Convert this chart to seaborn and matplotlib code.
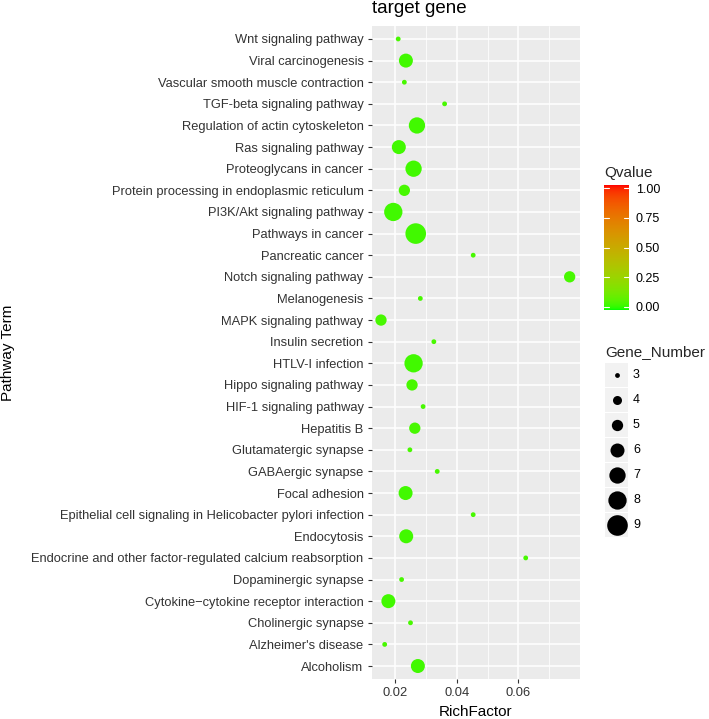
import numpy as np
import pandas as pd
import matplotlib
matplotlib.use("Agg")
import matplotlib.pyplot as plt
from matplotlib.colors import ListedColormap
from matplotlib.patches import Rectangle
import seaborn as sns

# ---------------- data (top to bottom) ----------------
pathways = [
    "Wnt signaling pathway",
    "Viral carcinogenesis",
    "Vascular smooth muscle contraction",
    "TGF-beta signaling pathway",
    "Regulation of actin cytoskeleton",
    "Ras signaling pathway",
    "Proteoglycans in cancer",
    "Protein processing in endoplasmic reticulum",
    "PI3K/Akt signaling pathway",
    "Pathways in cancer",
    "Pancreatic cancer",
    "Notch signaling pathway",
    "Melanogenesis",
    "MAPK signaling pathway",
    "Insulin secretion",
    "HTLV-I infection",
    "Hippo signaling pathway",
    "HIF-1 signaling pathway",
    "Hepatitis B",
    "Glutamatergic synapse",
    "GABAergic synapse",
    "Focal adhesion",
    "Epithelial cell signaling in Helicobacter pylori infection",
    "Endocytosis",
    "Endocrine and other factor-regulated calcium reabsorption",
    "Dopaminergic synapse",
    "Cytokine\u2212cytokine receptor interaction",
    "Cholinergic synapse",
    "Alzheimer's disease",
    "Alcoholism",
]
rich_factor = [
    0.0209, 0.0234, 0.0229, 0.0360, 0.0270, 0.0211, 0.0259, 0.0229, 0.0193, 0.0266,
    0.0453, 0.0767, 0.0281, 0.0153, 0.0325, 0.0259, 0.0254, 0.0290, 0.0263, 0.0247,
    0.0336, 0.0233, 0.0453, 0.0235, 0.0624, 0.0220, 0.0177, 0.0249, 0.0165, 0.0273,
]
gene_number = [
    3, 6, 3, 3, 7, 6, 7, 5, 8, 9,
    3, 5, 3, 5, 3, 8, 5, 3, 5, 3,
    3, 6, 3, 6, 3, 3, 6, 3, 3, 6,
]
qvalue = [
    0.05, 0.04, 0.05, 0.05, 0.04, 0.04, 0.04, 0.05, 0.04, 0.04,
    0.05, 0.05, 0.05, 0.05, 0.05, 0.04, 0.05, 0.05, 0.05, 0.05,
    0.05, 0.04, 0.05, 0.04, 0.05, 0.05, 0.04, 0.05, 0.05, 0.04,
]
legend_sizes = [3, 4, 5, 6, 7, 8, 9]
q_ticks = [0.0, 0.25, 0.5, 0.75, 1.0]
q_labels = ["0.00", "0.25", "0.50", "0.75", "1.00"]

df = pd.DataFrame({"Pathway": pathways, "RichFactor": rich_factor,
                   "Gene_Number": gene_number, "Qvalue": qvalue})

# ---------------- colour map: green -> red interpolated in Lab (ggplot style) ----------------
_M = np.array([[0.4124564, 0.3575761, 0.1804375],
               [0.2126729, 0.7151522, 0.0721750],
               [0.0193339, 0.1191920, 0.9503041]])
_W = np.array([0.95047, 1.0, 1.08883])

def _to_lab(rgb):
    c = np.asarray(rgb, float)
    lin = np.where(c <= 0.04045, c / 12.92, ((c + 0.055) / 1.055) ** 2.4)
    xyz = _M @ lin / _W
    f = np.where(xyz > 0.008856, np.cbrt(xyz), 7.787 * xyz + 16 / 116)
    return np.array([116 * f[1] - 16, 500 * (f[0] - f[1]), 200 * (f[1] - f[2])])

def _from_lab(lab):
    L, a, b = lab
    fy = (L + 16) / 116
    fx = fy + a / 500
    fz = fy - b / 200
    f = np.array([fx, fy, fz])
    xyz = np.where(f ** 3 > 0.008856, f ** 3, (f - 16 / 116) / 7.787) * _W
    lin = np.linalg.solve(_M, xyz)
    lin = np.clip(lin, 0, 1)
    c = np.where(lin <= 0.0031308, 12.92 * lin, 1.055 * lin ** (1 / 2.4) - 0.055)
    return np.clip(c, 0, 1)

_g, _r = _to_lab([0, 1, 0]), _to_lab([1, 0, 0])
cmap = ListedColormap([_from_lab(_g + t * (_r - _g)) for t in np.linspace(0, 1, 256)])

# size mapping (point area in pt^2)
size_px = {3: 4.8, 4: 9.0, 5: 11.3, 6: 14.0, 7: 16.3, 8: 18.3, 9: 20.6}
size_map = {k: (0.72 * v) ** 2 for k, v in size_px.items()}

# ---------------- figure ----------------
sns.set_style("white")
plt.rcParams["font.family"] = ["Liberation Sans", "DejaVu Sans"]

W, H = 709, 719
fig = plt.figure(figsize=(W / 100, H / 100), dpi=100)
L_, R_, T_, B_ = 372, 579.5, 26, 679
ax = fig.add_axes([L_ / W, 1 - B_ / H, (R_ - L_) / W, (B_ - T_) / H])
ax.set_facecolor("#EBEBEB")

sns.scatterplot(data=df, x="RichFactor", y="Pathway", hue="Qvalue", size="Gene_Number",
                palette=cmap, hue_norm=(0, 1), sizes=size_map, linewidth=0,
                legend=False, ax=ax, zorder=3)

ax.set_xlim(0.01237, 0.0799)
ax.set_ylim(len(pathways) - 1 + 0.6, -0.6)
ax.set_xticks([0.02, 0.04, 0.06])
ax.set_xticklabels(["0.02", "0.04", "0.06"])
ax.set_xticks([0.03, 0.05, 0.07], minor=True)
ax.grid(which="major", color="white", linewidth=1.1)
ax.grid(which="minor", axis="x", color="white", linewidth=0.55)
ax.set_axisbelow(True)
for s in ax.spines.values():
    s.set_visible(False)
ax.tick_params(which="major", length=2.9, width=0.8, color="#333333",
               labelcolor="#333333", labelsize=9.3, pad=3.2, bottom=True, left=True)
ax.tick_params(which="minor", length=0)
ax.set_xlabel("")
ax.set_ylabel("")

fig.text((L_ + R_) / 2 / W, 1 - 712 / H, "RichFactor", ha="center", va="center",
         fontsize=11, color="black")
fig.text(8 / W, 1 - (T_ + B_) / 2 / H, "Pathway Term", ha="center", va="center",
         rotation=90, fontsize=11, color="black")
fig.text(L_ / W, 1 - 13 / H, "target gene", ha="left", va="baseline",
         fontsize=13.5, color="black")

# ---------------- Qvalue colourbar ----------------
cb_l, cb_r, cb_t, cb_b = 604, 629, 185, 310
cax = fig.add_axes([cb_l / W, 1 - cb_b / H, (cb_r - cb_l) / W, (cb_b - cb_t) / H])
grad = np.linspace(0, 1, 256)[:, None]
cax.imshow(grad, aspect="auto", cmap=cmap, origin="lower",
           extent=[0, 1, -0.026, 1.026], interpolation="bilinear")
cax.set_xlim(0, 1)
cax.set_ylim(-0.026, 1.026)
for t in q_ticks:
    cax.plot([0, 0.2], [t, t], color="white", lw=0.8)
    cax.plot([0.8, 1], [t, t], color="white", lw=0.8)
cax.set_xticks([])
cax.yaxis.tick_right()
cax.set_yticks(q_ticks)
cax.set_yticklabels(q_labels)
cax.tick_params(axis="y", length=0, pad=5, labelsize=9, labelcolor="black")
for s in cax.spines.values():
    s.set_visible(False)
fig.text(cb_l / W, 1 - 173 / H, "Qvalue", ha="left", va="center", fontsize=11)

# ---------------- Gene_Number legend ----------------
k_l, k_r, k_t, k_step = 605, 628, 362.5, 25
n = len(legend_sizes)
lax = fig.add_axes([k_l / W, 1 - (k_t + n * k_step) / H, (k_r - k_l) / W, n * k_step / H])
lax.set_xlim(0, 1)
lax.set_ylim(n - 0.5, -0.5)
lax.axis("off")
for i, v in enumerate(legend_sizes):
    lax.add_patch(Rectangle((0, i - 0.48), 1, 0.96, facecolor="#F2F2F2", edgecolor="none"))
    lax.scatter([0.5], [i], s=size_map[v], color="black", linewidth=0, zorder=3)
    lax.text((633 - k_l) / (k_r - k_l), i, str(v), ha="left", va="center",
             fontsize=9, color="black", transform=lax.transData, clip_on=False)
fig.text(k_l / W, 1 - 352 / H, "Gene_Number", ha="left", va="center", fontsize=11)

fig.savefig("out.png", dpi=100)
